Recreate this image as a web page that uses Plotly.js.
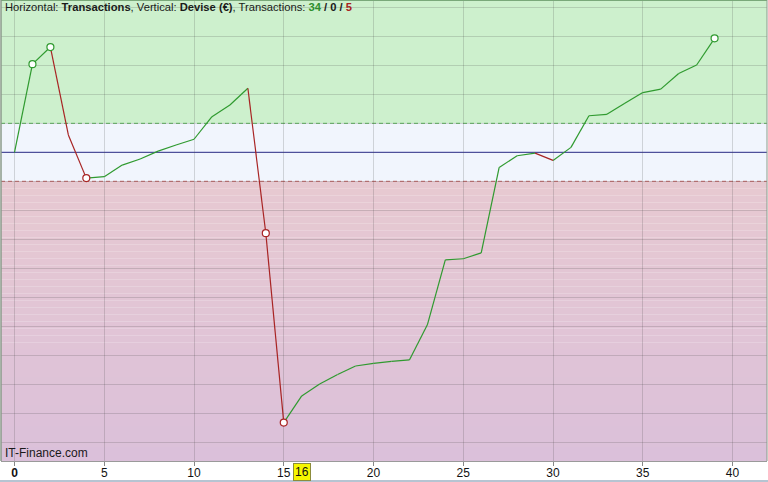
<!DOCTYPE html>
<html>
<head>
<meta charset="utf-8">
<script src="https://cdn.plot.ly/plotly-3.0.1.min.js"></script>
<style>
  html, body { margin: 0; padding: 0; background: #ffffff; }
  #chart { width: 768px; height: 482px; }
</style>
</head>
<body>
<div id="chart"></div>
<script>
// ---- Data ----
// Transaction index (horizontal axis)
const transactions = [0,1,2,3,4,5,6,7,8,9,10,11,12,13,14,15,16,17,18,19,20,21,22,23,24,25,26,27,28,29,30,31,32,33,34,35,36,37,38,39];
// Cumulative result in currency (vertical axis), relative to start
const balance = [0,304,363,60,-89,-84,-44,-23,4,25,45,123,163,221,-279,-932,-840,-799,-766,-737,-728,-721,-716,-595,-371,-367,-347,-52,-12,-3,-28,17,126,131,169,206,218,272,301,393];
// Points highlighted with an open circle
const markedPoints = [1,2,4,14,15,39];
// Threshold lines (upper / zero / lower)
const upperThreshold = 100;
const zeroLine = 0;
const lowerThreshold = -100;
// Tick labels
const xTickVals = [0,5,10,15,20,25,30,35,40];
const xTickText = ['<b>0</b>','5','10','15','20','25','30','35','40'];
const highlightedTick = 16;
const counts = {wins: 34, even: 0, losses: 5};

// ---- Styles ----
const GREEN = '#2f9a2f';
const RED = '#a82424';
const yMin = -1064.5, yMax = 525.2;
const xMin = -0.752, xMax = 41.92;

// Build coloured segments from data
const gx = [], gy = [], rx = [], ry = [];
for (let i = 0; i < transactions.length - 1; i++) {
  const down = balance[i + 1] < balance[i];
  const X = down ? rx : gx, Y = down ? ry : gy;
  X.push(transactions[i], transactions[i + 1], null);
  Y.push(balance[i], balance[i + 1], null);
}
const mx = [], my = [], mc = [];
markedPoints.forEach(i => {
  mx.push(transactions[i]); my.push(balance[i]);
  const down = i > 0 && balance[i] < balance[i - 1];
  mc.push(down ? RED : GREEN);
});

const traces = [
  {x: gx, y: gy, mode: 'lines', line: {color: GREEN, width: 1.2}, hoverinfo: 'skip', showlegend: false},
  {x: rx, y: ry, mode: 'lines', line: {color: RED, width: 1.2}, hoverinfo: 'skip', showlegend: false},
  {x: mx, y: my, mode: 'markers', marker: {size: 7, color: '#ffffff', line: {color: mc, width: 1.2}}, hoverinfo: 'skip', showlegend: false}
];

// Background bands
const shapes = [
  {type: 'rect', xref: 'paper', yref: 'y', x0: 0, x1: 1, y0: upperThreshold, y1: yMax, fillcolor: '#cdf0cd', line: {width: 0}, layer: 'below'},
  {type: 'rect', xref: 'paper', yref: 'y', x0: 0, x1: 1, y0: lowerThreshold, y1: upperThreshold, fillcolor: '#f1f5fd', line: {width: 0}, layer: 'below'}
];
// vertical gradient for the lower band
const strips = 40;
const cTop = [231, 201, 209], cBot = [219, 192, 218];
for (let s = 0; s < strips; s++) {
  const t = (s + 0.5) / strips;
  const c = cTop.map((v, k) => Math.round(v + (cBot[k] - v) * t));
  const y0 = lowerThreshold + (yMin - lowerThreshold) * s / strips;
  const y1 = lowerThreshold + (yMin - lowerThreshold) * (s + 1) / strips;
  shapes.push({type: 'rect', xref: 'paper', yref: 'y', x0: 0, x1: 1, y0: y1, y1: y0,
    fillcolor: 'rgb(' + c.join(',') + ')', line: {width: 0}, layer: 'below'});
}
// threshold lines
shapes.push({type: 'line', xref: 'paper', yref: 'y', x0: 0, x1: 1, y0: upperThreshold, y1: upperThreshold, line: {color: '#5bb85b', width: 1, dash: '4px,3px'}, layer: 'between'});
shapes.push({type: 'line', xref: 'paper', yref: 'y', x0: 0, x1: 1, y0: lowerThreshold, y1: lowerThreshold, line: {color: '#c46262', width: 1, dash: '4px,3px'}, layer: 'between'});
shapes.push({type: 'line', xref: 'paper', yref: 'y', x0: 0, x1: 1, y0: zeroLine, y1: zeroLine, line: {color: '#2b2b9c', width: 1}, layer: 'between'});
// frame
shapes.push({type: 'line', xref: 'paper', yref: 'paper', x0: 0, x1: 1, y0: 1, y1: 1, line: {color: '#7aa87a', width: 2}, layer: 'above'});
shapes.push({type: 'line', xref: 'paper', yref: 'paper', x0: 0, x1: 0, y0: 0, y1: 1, line: {color: '#8a9a8a', width: 1.5}, layer: 'above'});
shapes.push({type: 'line', xref: 'paper', yref: 'paper', x0: 1, x1: 1, y0: 0, y1: 1, line: {color: '#8a9a8a', width: 1}, layer: 'above'});
// bottom window line
shapes.push({type: 'line', xref: 'paper', yref: 'paper', x0: -0.01, x1: 1.01, y0: -0.0435, y1: -0.0435, line: {color: '#b6c4d2', width: 2}, layer: 'above'});

const annotations = [
  {xref: 'paper', yref: 'paper', x: 0, y: 1, xanchor: 'left', yanchor: 'top', xshift: 2, yshift: 1, showarrow: false, align: 'left',
   font: {family: 'Liberation Sans, Arial, sans-serif', size: 11.2, color: '#1a1a1a'},
   text: 'Horizontal: <b>Transactions</b>, Vertical: <b>Devise (€)</b>, Transactions: <b><span style="color:#2e8f2e">' + counts.wins + '</span> / ' + counts.even + ' / <span style="color:#a82020">' + counts.losses + '</span></b>'},
  {xref: 'paper', yref: 'paper', x: 0, y: 0, xanchor: 'left', yanchor: 'bottom', xshift: 2, yshift: -1, showarrow: false,
   font: {family: 'Liberation Sans, Arial, sans-serif', size: 12, color: '#1a1a1a'}, text: 'IT-Finance.com'},
  {xref: 'x', yref: 'paper', x: highlightedTick, y: 0, yanchor: 'top', yshift: -2, showarrow: false,
   font: {family: 'Liberation Sans, Arial, sans-serif', size: 12, color: '#111111'}, text: String(highlightedTick),
   bgcolor: '#f6f600', bordercolor: '#8c8c3c', borderwidth: 1, borderpad: 1}
];

const layout = {
  width: 768, height: 482,
  margin: {l: 1, r: 1, t: 0, b: 21},
  paper_bgcolor: '#ffffff', plot_bgcolor: 'rgba(0,0,0,0)',
  showlegend: false,
  xaxis: {range: [xMin, xMax], tickvals: xTickVals, ticktext: xTickText, ticks: 'outside', ticklen: 4, tickcolor: '#888888',
          ticklabelstandoff: -3,
          showgrid: true, gridcolor: 'rgba(70,70,70,0.2)', gridwidth: 1, zeroline: false,
          showline: true, linecolor: '#9a9a9a', linewidth: 1,
          tickfont: {family: 'Liberation Sans, Arial, sans-serif', size: 12, color: '#111111'}, fixedrange: true},
  yaxis: {range: [yMin, yMax], dtick: 100, tick0: 0, showticklabels: false, ticks: '', showgrid: true,
          gridcolor: 'rgba(70,70,70,0.2)', gridwidth: 1, zeroline: false, fixedrange: true},
  shapes: shapes,
  annotations: annotations
};

Plotly.newPlot('chart', traces, layout, {displayModeBar: false, staticPlot: true});
</script>
</body>
</html>
